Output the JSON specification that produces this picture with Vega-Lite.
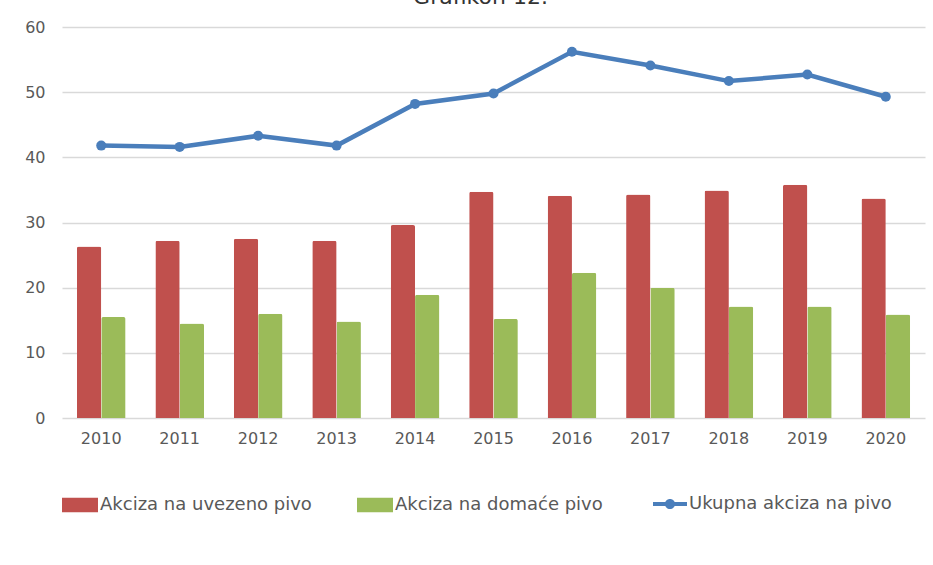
{
  "$schema": "https://vega.github.io/schema/vega-lite/v6.json",
  "width": 863,
  "height": 391,
  "autosize": {"type": "none"},
  "padding": {"left": 62, "top": 27, "right": 8, "bottom": 147},
  "background": "white",
  "title": {"text": "Grafikon 12.", "fontSize": 22, "font": "DejaVu Sans", "fontWeight": "normal", "color": "#333333", "anchor": "middle", "offset": 8, "dx": -13, "dy": -2},
  "config": {
    "view": {"stroke": null},
    "font": "DejaVu Sans",
    "axis": {"labelFont": "DejaVu Sans", "labelColor": "#595959", "labelFontSize": 16, "gridColor": "#d9d9d9", "gridWidth": 1.3, "domain": false, "ticks": false, "title": null},
    "legend": {"labelFont": "DejaVu Sans", "labelColor": "#595959", "labelFontSize": 18, "labelLimit": 0}
  },
  "datasets": {
    "stupci": [
      {"godina": "2010", "serija": "Akciza na uvezeno pivo", "vrijednost": 26.3},
      {"godina": "2011", "serija": "Akciza na uvezeno pivo", "vrijednost": 27.2},
      {"godina": "2012", "serija": "Akciza na uvezeno pivo", "vrijednost": 27.5},
      {"godina": "2013", "serija": "Akciza na uvezeno pivo", "vrijednost": 27.2},
      {"godina": "2014", "serija": "Akciza na uvezeno pivo", "vrijednost": 29.6},
      {"godina": "2015", "serija": "Akciza na uvezeno pivo", "vrijednost": 34.7},
      {"godina": "2016", "serija": "Akciza na uvezeno pivo", "vrijednost": 34.1},
      {"godina": "2017", "serija": "Akciza na uvezeno pivo", "vrijednost": 34.3},
      {"godina": "2018", "serija": "Akciza na uvezeno pivo", "vrijednost": 34.9},
      {"godina": "2019", "serija": "Akciza na uvezeno pivo", "vrijednost": 35.8},
      {"godina": "2020", "serija": "Akciza na uvezeno pivo", "vrijednost": 33.7},
      {"godina": "2010", "serija": "Akciza na domaće pivo", "vrijednost": 15.5},
      {"godina": "2011", "serija": "Akciza na domaće pivo", "vrijednost": 14.5},
      {"godina": "2012", "serija": "Akciza na domaće pivo", "vrijednost": 16.0},
      {"godina": "2013", "serija": "Akciza na domaće pivo", "vrijednost": 14.8},
      {"godina": "2014", "serija": "Akciza na domaće pivo", "vrijednost": 18.9},
      {"godina": "2015", "serija": "Akciza na domaće pivo", "vrijednost": 15.2},
      {"godina": "2016", "serija": "Akciza na domaće pivo", "vrijednost": 22.3},
      {"godina": "2017", "serija": "Akciza na domaće pivo", "vrijednost": 20.0},
      {"godina": "2018", "serija": "Akciza na domaće pivo", "vrijednost": 17.1},
      {"godina": "2019", "serija": "Akciza na domaće pivo", "vrijednost": 17.1},
      {"godina": "2020", "serija": "Akciza na domaće pivo", "vrijednost": 15.9}
    ],
    "linija": [
      {"godina": "2010", "serija": "Ukupna akciza na pivo", "vrijednost": 41.8},
      {"godina": "2011", "serija": "Ukupna akciza na pivo", "vrijednost": 41.6},
      {"godina": "2012", "serija": "Ukupna akciza na pivo", "vrijednost": 43.3},
      {"godina": "2013", "serija": "Ukupna akciza na pivo", "vrijednost": 41.8},
      {"godina": "2014", "serija": "Ukupna akciza na pivo", "vrijednost": 48.2},
      {"godina": "2015", "serija": "Ukupna akciza na pivo", "vrijednost": 49.8},
      {"godina": "2016", "serija": "Ukupna akciza na pivo", "vrijednost": 56.2},
      {"godina": "2017", "serija": "Ukupna akciza na pivo", "vrijednost": 54.1},
      {"godina": "2018", "serija": "Ukupna akciza na pivo", "vrijednost": 51.7},
      {"godina": "2019", "serija": "Ukupna akciza na pivo", "vrijednost": 52.7},
      {"godina": "2020", "serija": "Ukupna akciza na pivo", "vrijednost": 49.3}
    ]
  },
  "layer": [
    {
      "data": {"name": "stupci"},
      "mark": {"type": "bar", "cornerRadiusTopLeft": 2, "cornerRadiusTopRight": 2},
      "encoding": {
        "x": {"field": "godina", "type": "nominal", "scale": {"paddingInner": 0.38, "paddingOuter": 0.19},
              "axis": {"labelAngle": 0, "labelPadding": 12, "grid": false}},
        "xOffset": {"field": "serija", "type": "nominal", "sort": ["Akciza na uvezeno pivo", "Akciza na domaće pivo"], "scale": {"paddingInner": 0}},
        "y": {"field": "vrijednost", "type": "quantitative", "scale": {"domain": [0, 60]},
              "axis": {"values": [0, 10, 20, 30, 40, 50, 60], "labelPadding": 17, "grid": true}},
        "color": {"field": "serija", "type": "nominal",
                  "scale": {"domain": ["Akciza na uvezeno pivo", "Akciza na domaće pivo"], "range": ["#c0504d", "#9bbb59"]},
                  "legend": {"title": null, "orient": "none", "direction": "horizontal", "legendX": 0, "legendY": 460,
                             "symbolType": "M-1,-0.4H1V0.4H-1Z", "symbolSize": 1296, "symbolStrokeWidth": 0,
                             "labelOffset": 2, "columnPadding": 45, "padding": 0}}
      }
    },
    {
      "data": {"name": "linija"},
      "mark": {"type": "line", "strokeWidth": 4.5, "point": {"filled": true, "size": 100}},
      "encoding": {
        "x": {"field": "godina", "type": "nominal"},
        "y": {"field": "vrijednost", "type": "quantitative"},
        "color": {"field": "serija", "type": "nominal",
                  "scale": {"domain": ["Ukupna akciza na pivo"], "range": ["#4a7ebb"]},
                  "legend": {"title": null, "orient": "none", "direction": "horizontal", "legendX": 591, "legendY": 460,
                             "symbolType": "M-1,-0.12H1V0.12H-1Z M-0.3,0A0.3,0.3 0 1 1 0.3,0A0.3,0.3 0 1 1 -0.3,0Z", "symbolSize": 1156,
                             "symbolStrokeWidth": 0, "labelOffset": 2, "padding": 0}}
      }
    }
  ],
  "resolve": {"scale": {"color": "independent"}}
}
